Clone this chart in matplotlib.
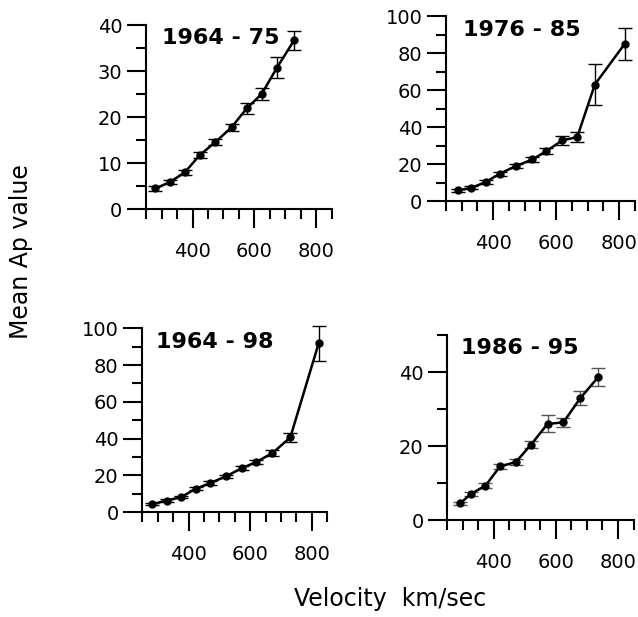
import matplotlib
matplotlib.use("Agg")
import matplotlib.pyplot as plt
from matplotlib.ticker import MultipleLocator

# 속도 구간별 평균 Ap 값
titles = ["1964 - 75", "1976 - 85", "1964 - 98", "1986 - 95"]

vel_6475 = [280, 327, 375, 424, 474, 526, 575, 624, 673, 728]
ap_6475 = [4.5, 5.9, 8.0, 11.8, 14.6, 17.8, 21.9, 25.1, 30.8, 36.7]
err_6475 = [0.5, 0.5, 0.6, 0.6, 0.7, 0.8, 1.1, 1.3, 2.2, 2.0]

vel_7685 = [287, 331, 376, 421, 471, 524, 569, 619, 667, 723, 818]
ap_7685 = [5.8, 7.2, 10.3, 14.8, 18.9, 22.5, 27.0, 32.8, 34.6, 63.0, 85.0]
err_7685 = [0.8, 0.8, 1.0, 1.2, 1.2, 1.3, 1.5, 2.5, 2.5, 11.0, 8.6]

vel_6498 = [281, 330, 376, 424, 470, 521, 573, 619, 672, 730, 822]
ap_6498 = [4.3, 6.3, 8.2, 12.7, 15.8, 19.4, 23.9, 27.2, 32.1, 40.6, 91.8]
err_6498 = [0.6, 0.6, 0.7, 0.8, 0.9, 1.0, 1.1, 1.2, 1.5, 2.3, 9.5]

vel_8695 = [291, 327, 373, 420, 471, 520, 573, 624, 679, 737]
ap_8695 = [4.5, 7.1, 9.3, 14.5, 15.7, 20.4, 26.0, 26.4, 33.0, 38.7]
err_8695 = [0.4, 0.5, 0.6, 0.7, 0.8, 1.0, 2.3, 1.2, 2.0, 2.5]

fig = plt.figure(figsize=(6.38, 6.17), dpi=100)

# 패널 위치 (figure 비율), y축 범위, 눈금 간격, 제목 위치, 오차막대 색
panels = [
    ([0.229, 0.661, 0.291, 0.298], vel_6475, ap_6475, err_6475, 40, 10, 5, 0.086, 0.93, "black"),
    ([0.699, 0.674, 0.296, 0.300], vel_7685, ap_7685, err_7685, 100, 20, 10, 0.09, 0.924, "black"),
    ([0.223, 0.170, 0.290, 0.298], vel_6498, ap_6498, err_6498, 100, 20, 10, 0.076, 0.924, "black"),
    ([0.701, 0.157, 0.292, 0.300], vel_8695, ap_8695, err_8695, 50, 20, 10, 0.075, 0.93, "#555555"),
]

for title, (rect, vx, ap, er, ymax, ymaj, ymin, tx, ty, ecol) in zip(titles, panels):
    ax = fig.add_axes(rect)
    ax.errorbar(vx, ap, yerr=er, fmt="none", ecolor=ecol, elinewidth=1.0,
                capsize=5, capthick=1.0, zorder=2)
    ax.plot(vx, ap, color="black", lw=1.8, marker="o", ms=5, zorder=3)

    ax.set_xlim(250, 850)
    ax.set_ylim(0, ymax)
    ax.xaxis.set_major_locator(MultipleLocator(200))
    ax.xaxis.set_minor_locator(MultipleLocator(50))
    ax.yaxis.set_major_locator(MultipleLocator(ymaj))
    ax.yaxis.set_minor_locator(MultipleLocator(ymin))
    ax.set_xticks([400, 600, 800])

    for s in ["top", "right"]:
        ax.spines[s].set_visible(False)
    for s in ["left", "bottom"]:
        ax.spines[s].set_linewidth(1.5)

    ax.tick_params(axis="x", which="major", length=14, width=1.5,
                   labelsize=14, pad=10)
    ax.tick_params(axis="x", which="minor", length=7, width=1.5)
    ax.tick_params(axis="y", which="major", length=14, width=1.5,
                   labelsize=14, pad=3)
    ax.tick_params(axis="y", which="minor", length=7, width=1.5)

    ax.text(tx, ty, title, transform=ax.transAxes, fontsize=16,
            fontweight="bold", ha="left", va="center")
    for art in ax.lines + ax.collections:
        art.set_clip_on(False)

fig.text(0.033, 0.592, "Mean Ap value", rotation=90, fontsize=17,
         ha="center", va="center")
fig.text(0.611, 0.018, "Velocity  km/sec", fontsize=17,
         ha="center", va="baseline")

fig.savefig("out.png", dpi=100)
